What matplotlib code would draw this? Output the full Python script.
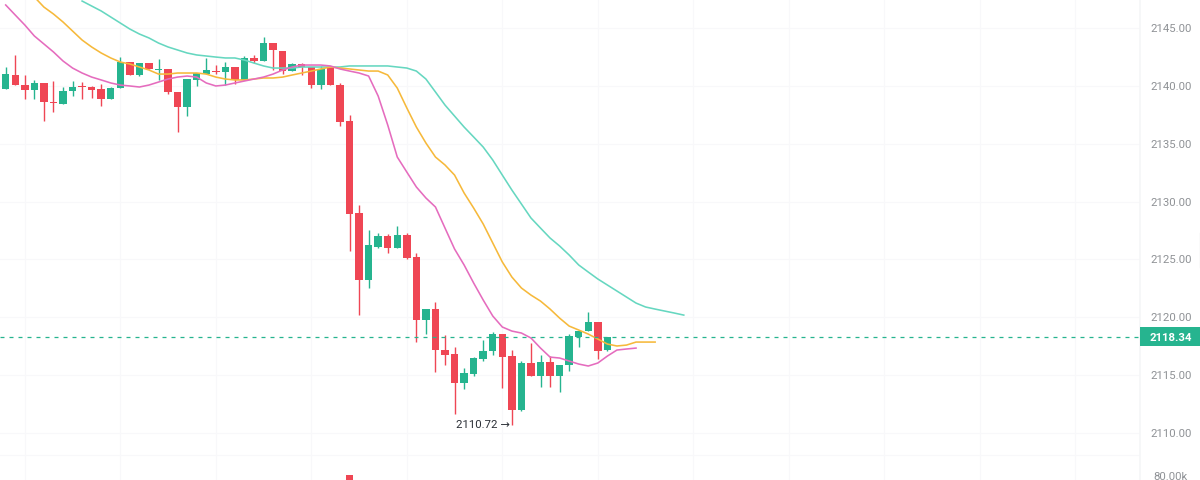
import matplotlib
matplotlib.use("Agg")
import matplotlib.pyplot as plt
from matplotlib.lines import Line2D
from matplotlib.patches import Rectangle
from matplotlib.transforms import blended_transform_factory

plt.rcParams['font.family'] = ['Roboto', 'DejaVu Sans']

opens = [2139.70,2140.94,2140.08,2139.64,2140.25,2138.61,2138.46,2139.56,2139.96,2139.90,2139.76,2138.87,
         2139.79,2142.06,2140.94,2141.98,2141.37,2141.49,2139.50,2138.15,2140.54,2141.06,2141.32,2141.20,
         2141.66,2140.51,2142.38,2142.18,2143.71,2143.04,2141.32,2141.89,2141.60,2140.05,2141.52,2140.08,
         2136.94,2128.99,2123.23,2126.11,2127.03,2125.96,2127.09,2125.18,2119.77,2120.75,2117.20,2116.80,
         2114.35,2115.10,2116.40,2117.12,2118.53,2116.65,2111.99,2116.05,2114.93,2116.13,2114.93,2115.85,
         2118.27,2118.79,2119.56,2117.17]
closes = [2141.00,2140.05,2139.64,2140.22,2138.64,2138.52,2139.59,2139.90,2139.87,2139.64,2138.87,2139.82,
          2142.06,2140.94,2141.95,2141.43,2141.49,2139.44,2138.15,2140.57,2141.09,2141.37,2141.17,2141.66,
          2140.51,2142.38,2142.15,2143.71,2143.10,2141.29,2141.89,2141.63,2140.08,2141.49,2140.05,2136.91,
          2128.93,2123.23,2126.25,2127.03,2126.02,2127.09,2125.13,2119.77,2120.75,2117.17,2116.74,2114.29,
          2115.16,2116.48,2117.12,2118.53,2116.60,2111.99,2116.05,2114.93,2116.13,2114.93,2115.88,2118.38,
          2118.84,2119.56,2117.09,2118.34]
highs = [2141.66,2142.67,2140.94,2140.51,2140.25,2140.42,2139.93,2140.42,2140.31,2139.99,2140.13,2139.93,
         2142.47,2142.06,2141.95,2141.98,2142.29,2141.49,2139.50,2140.57,2141.14,2142.38,2141.83,2142.09,
         2141.66,2142.58,2142.64,2144.25,2143.71,2143.04,2141.95,2141.95,2141.60,2141.72,2141.52,2140.22,
         2137.49,2129.71,2127.55,2127.26,2127.17,2127.89,2127.26,2125.53,2120.75,2121.35,2118.47,2117.46,
         2115.59,2116.60,2118.04,2118.73,2118.53,2117.17,2116.19,2117.80,2116.74,2116.65,2115.88,2118.53,
         2118.84,2120.43,2119.56,2118.34]
lows = [2139.70,2140.05,2138.84,2138.84,2137.00,2137.77,2138.46,2139.13,2138.87,2138.95,2138.23,2138.87,
        2139.79,2140.94,2140.85,2141.43,2140.51,2139.30,2136.04,2137.43,2139.99,2141.06,2141.03,2140.08,
        2140.13,2140.51,2141.95,2142.18,2141.37,2141.00,2141.32,2140.91,2139.79,2139.76,2140.05,2136.54,
        2125.73,2120.20,2122.50,2126.02,2125.53,2125.96,2125.07,2117.90,2118.53,2115.27,2115.85,2111.61,
        2113.80,2114.93,2116.25,2116.77,2113.86,2110.72,2111.90,2114.93,2114.00,2113.95,2113.54,2115.33,
        2117.46,2118.79,2116.42,2117.12]

ma_pink = [2146.99,2146.12,2145.26,2144.31,2143.62,2142.93,2142.15,2141.54,2141.11,2140.76,2140.51,2140.25,
           2140.07,2139.99,2139.90,2140.07,2140.33,2140.59,2140.76,2140.85,2140.76,2140.25,2139.99,2140.07,
           2140.25,2140.42,2140.59,2140.76,2141.02,2141.37,2141.63,2141.80,2141.80,2141.80,2141.72,2141.46,
           2141.28,2141.11,2140.85,2139.12,2136.62,2133.85,2132.55,2131.26,2130.31,2129.53,2127.71,2125.90,
           2124.52,2122.96,2121.49,2120.11,2119.16,2118.81,2118.64,2118.21,2117.34,2116.56,2116.48,2116.22,
           2115.96,2115.79,2116.05,2116.65,2117.17,2117.26,2117.34]
ma_orange_start = 3
ma_orange = [2147.68,2146.81,2146.21,2145.52,2144.74,2143.96,2143.36,2142.84,2142.41,2142.06,2141.89,2141.63,
             2141.37,2141.02,2141.02,2141.11,2141.11,2141.11,2141.02,2140.76,2140.59,2140.51,2140.51,2140.59,
             2140.68,2140.68,2140.76,2140.94,2141.11,2141.28,2141.46,2141.63,2141.54,2141.46,2141.37,2141.28,
             2141.28,2140.94,2139.81,2138.09,2136.44,2135.06,2133.85,2133.16,2132.29,2130.74,2129.44,2128.06,
             2126.42,2124.78,2123.48,2122.53,2121.92,2121.40,2120.71,2119.93,2119.24,2118.90,2118.55,2118.12,
             2117.69,2117.52,2117.60,2117.86,2117.86,2117.86]
ma_teal_start = 8
ma_teal = [2147.33,2146.90,2146.47,2145.95,2145.43,2144.91,2144.48,2144.14,2143.70,2143.36,2143.10,2142.84,
           2142.67,2142.58,2142.49,2142.41,2142.41,2142.23,2141.97,2141.72,2141.54,2141.54,2141.54,2141.63,
           2141.63,2141.63,2141.63,2141.63,2141.72,2141.72,2141.72,2141.72,2141.72,2141.63,2141.54,2141.28,
           2140.59,2139.47,2138.34,2137.39,2136.44,2135.58,2134.71,2133.59,2132.29,2131.00,2129.79,2128.58,
           2127.71,2126.85,2126.16,2125.38,2124.52,2123.91,2123.31,2122.79,2122.27,2121.75,2121.23,2120.89,
           2120.71,2120.54,2120.37,2120.19]

price_ticks = [2110, 2115, 2120, 2125, 2130, 2135, 2140, 2145]
time_grid = [2, 12, 22, 32, 42, 52, 62, 72, 82, 92, 102, 112]
last_price = 2118.34
low_label = "2110.72 →"
low_index = 53
low_price = 2110.72
volume_index = 36
volume_value = 81000
volume_ticks = [80000]
volume_labels = ["80.00k"]
pane_divider = 2108.10

GREEN = "#26B48F"
RED = "#EF4654"
TEXT = "#8f9296"
GRID = "#f8f8fa"

fig = plt.figure(figsize=(12, 4.8), dpi=100, facecolor="white")
ax = fig.add_axes([0, 0, 1140 / 1200, 1])
ax.set_xlim(-0.597, 118.77)
ax.set_ylim(2105.94, 2147.42)
for s in ax.spines.values():
    s.set_visible(False)

ax.set_xticks(time_grid)
ax.set_xticklabels([])
ax.set_yticks(price_ticks)
ax.set_yticklabels([f"{p:.2f}" for p in price_ticks])
ax.grid(True, color=GRID, lw=0.9)
ax.set_axisbelow(True)
ax.axvline(118.77, color="#f5f6f7", lw=1.2, clip_on=False)
ax.axhline(pane_divider, color=GRID, lw=0.9, zorder=1)

for i, (o, c, h, l) in enumerate(zip(opens, closes, highs, lows)):
    col = GREEN if c >= o else RED
    ax.vlines(i, l, h, color=col, lw=1.0, zorder=2)
    ax.bar(i, abs(c - o), bottom=min(o, c), width=0.78, color=col, zorder=3)

ax.plot(range(ma_teal_start, ma_teal_start + len(ma_teal)), ma_teal, color="#66D7C0", lw=1.15, zorder=4)
ax.plot(range(ma_orange_start, ma_orange_start + len(ma_orange)), ma_orange, color="#F6B93B", lw=1.15, zorder=5)
ax.plot(range(len(ma_pink)), ma_pink, color="#E56CBE", lw=1.15, zorder=6)

ax.axhline(last_price, color=GREEN, lw=0.9, dashes=(3.2, 4.0), zorder=7)

ax.annotate(low_label, xy=(low_index, low_price), xytext=(-1.5, 0), textcoords="offset points",
            ha="right", va="center", fontsize=8.2, color="#2b2f36", zorder=8)

tr = blended_transform_factory(ax.transAxes, ax.transData)
ax.add_patch(Rectangle((1.0, last_price - 0.82), 60 / 1140, 1.64, transform=tr,
                       facecolor=GREEN, edgecolor="none", clip_on=False, zorder=9))
ax.text(1150 / 1140, last_price, f"{last_price:.2f}", transform=tr, ha="left", va="center_baseline",
        fontsize=8.2, fontweight="bold", color="white", clip_on=False, zorder=10)

ax2 = ax.twinx()
ax2.set_ylim(76190, 533330)
for s in ax2.spines.values():
    s.set_visible(False)
ax2.patch.set_visible(False)
ax2.bar(volume_index, volume_value, width=0.78, color=RED)
ax2.set_yticks(volume_ticks)
ax2.set_yticklabels(volume_labels)
ax2.tick_params(axis="y", length=0, labelsize=8.2, labelcolor=TEXT, pad=9.5)

# twinx moves the price axis to the left, so put it back on the right here
ax.yaxis.tick_right()
ax.tick_params(axis="both", length=0)
ax.tick_params(axis="y", labelsize=8.2, labelcolor=TEXT, pad=7.2)

fig.add_artist(Line2D([1199.5 / 1200] * 2, [1 - 233 / 480, 1 - 267 / 480], color="#d8d9db", lw=0.9))

fig.savefig("out.png", dpi=100, facecolor="white")
